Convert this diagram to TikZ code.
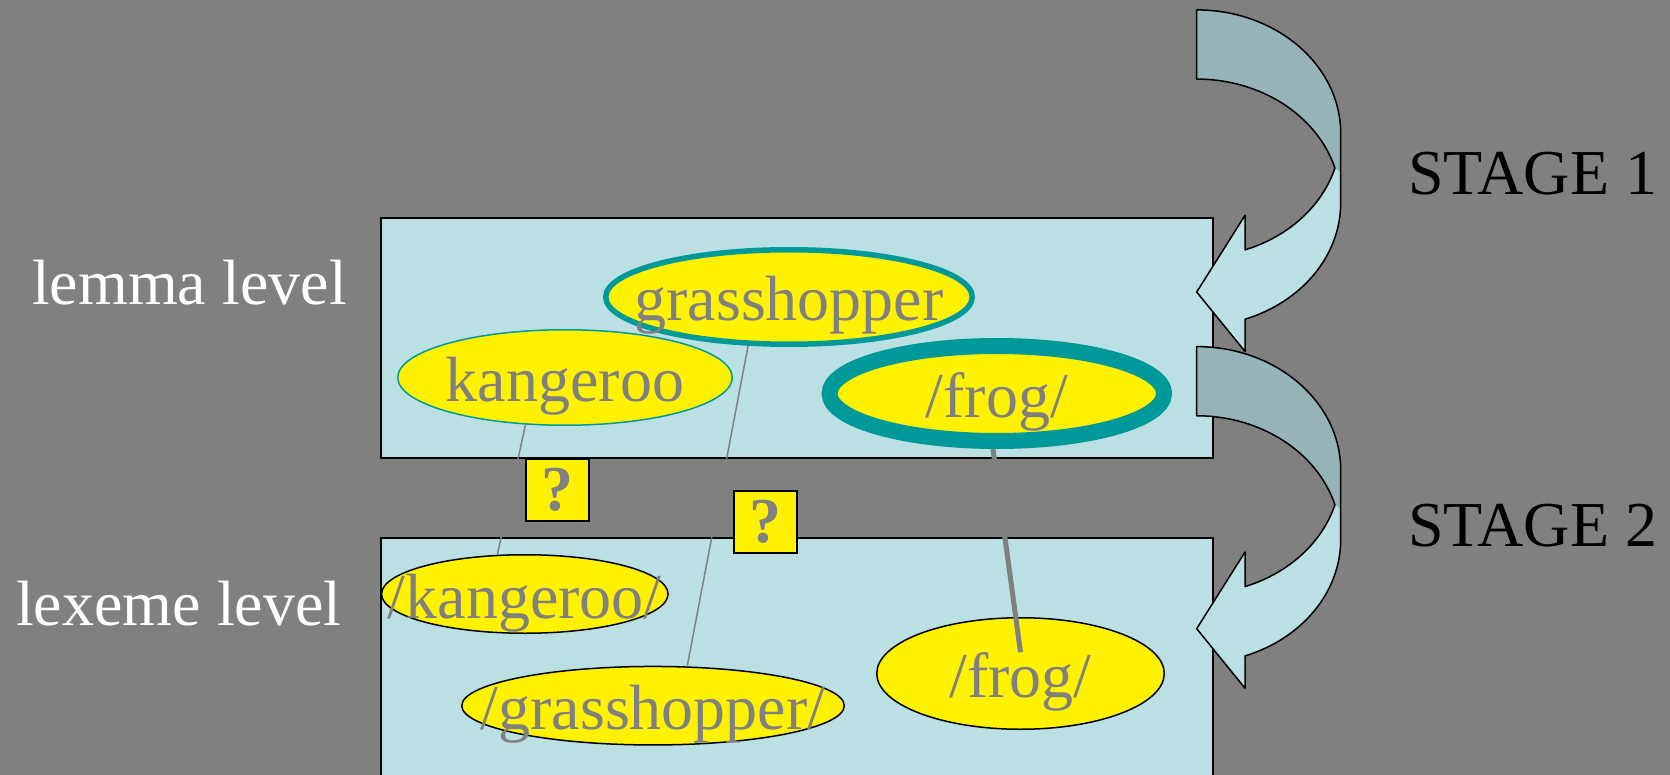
\documentclass[tikz,border=0pt]{standalone}
\usepackage{fontspec}
\setmainfont{Liberation Serif}
\usepackage{tikz}
\usetikzlibrary{shapes.geometric}
\definecolor{bggray}{HTML}{808080}
\definecolor{boxcyan}{HTML}{BBE0E3}
\definecolor{ringteal}{HTML}{009999}
\definecolor{backarrow}{HTML}{96B3B8}

\begin{document}
\begin{tikzpicture}[x=1pt,y=-1pt]
\tikzset{every node/.style={font=\fontsize{64}{72}\selectfont},
  lemma/.style={ellipse, draw=ringteal, fill=yellow, line width=#1, inner sep=0pt},
  lemma/.default=1.5pt,
  lexeme/.style={ellipse, draw=black, fill=yellow, line width=1.5pt, inner sep=0pt},
  word/.style={text=bggray, inner sep=0pt, anchor=base},
  levelname/.style={text=white, inner sep=0pt, anchor=base west},
  stage/.style={text=black, inner sep=0pt, anchor=base west},
  qbox/.style={draw=black, fill=yellow, line width=2pt, text=bggray,
    minimum width=63pt, minimum height=62.5pt, inner sep=0pt,
    font=\fontsize{64}{72}\selectfont\bfseries},
  link/.style={draw=bggray, line width=#1},
  link/.default=1.5pt,
  levelbox/.style={draw=black, fill=boxcyan, line width=2pt},
  band/.style={x radius=144, y radius=123.6}
}
\clip (0,0) rectangle (1670,775);
\fill[bggray] (0,0) rectangle (1670,775);
\draw[levelbox] (381,218) rectangle (1213,458);
\draw[levelbox] (381,538) rectangle (1213,790);
\foreach \dy in {0,336.7}{
  \begin{scope}[shift={(0,\dy)}]
    \fill[boxcyan] (1340.7,133.5) arc[band, start angle=0, end angle=70.4]
      -- (1245,215.3) -- (1196.7,292) -- (1245,351.5) -- (1245,319.2)
      arc[band, start angle=70.4, end angle=0] -- cycle;
    \fill[backarrow] (1196.7,9.9) arc[band, start angle=270, end angle=360]
      -- (1340.7,172) -- (1334.9,168.1) arc[band, start angle=343.74, end angle=270] -- cycle;
    \draw[line width=1.5pt, line join=round] (1196.7,9.9) arc[band, start angle=270, end angle=360]
      -- (1340.7,202.8) arc[band, start angle=0, end angle=70.4]
      -- (1245,351.5) -- (1196.7,292) -- (1245,215.3) -- (1245,249.9)
      arc[band, start angle=70.4, end angle=16.26] arc[band, start angle=343.74, end angle=270] -- cycle;
  \end{scope}
}
\node[lemma, minimum width=334.5pt, minimum height=95.5pt] (lmk) at (565,377.5) {};
\node[lemma=5.5pt, minimum width=366.5pt, minimum height=94.5pt] (lmg) at (789,297) {};
\node[lemma=16pt, minimum width=334.5pt, minimum height=95pt] (lmf) at (996.8,393.5) {};
\node[lexeme, minimum width=286.5pt, minimum height=78.5pt] (lxk) at (524.8,594) {};
\node[lexeme, minimum width=382.5pt, minimum height=78.5pt] (lxg) at (653,705.7) {};
\node[lexeme, minimum width=287.5pt, minimum height=111.5pt] (lxf) at (1020.5,673.5) {};
\node[word] (lmkt) at ([yshift=-24pt]lmk.center) {kangeroo};
\node[word] (lmgt) at ([yshift=-24pt]lmg.center) {grasshopper};
\node[word] (lmft) at ([yshift=-24pt]lmf.center) {/frog/};
\node[word] (lxkt) at ([yshift=-24pt]lxk.center) {/kangeroo/};
\node[word] (lxgt) at ([yshift=-24pt]lxg.center) {/grasshopper/};
\node[word] (lxft) at ([yshift=-24pt]lxf.center) {/frog/};
\draw[link] (lmk.230) -- (lxk.125);
\draw[link] (lmg.230) -- (lxg.49);
\draw[link=5pt] (lmf.266) -- (lxft.north);
\node[qbox] (q1) at (557,490) {?};
\node[qbox] (q2) at (765,522) {?};
\node[levelname] (lemmalab) at (32,305) {lemma level};
\node[levelname] (lexemelab) at (16,625) {lexeme level};
\node[stage] (st1) at (1408,195) {STAGE 1};
\node[stage] (st2) at (1408,546) {STAGE 2};
\end{tikzpicture}
\end{document}
